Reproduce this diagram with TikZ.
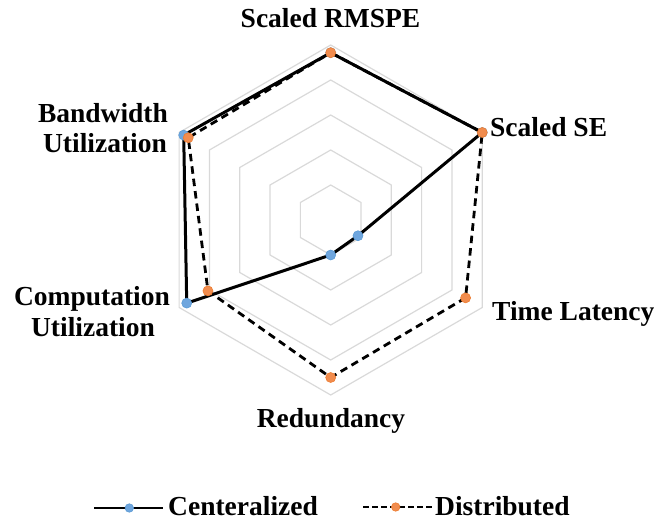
\documentclass[tikz,border=0pt]{standalone}
\usepackage{fontspec}
\setmainfont{Liberation Serif}
\usetikzlibrary{calc}
\definecolor{gridgray}{HTML}{D9D9D9}
\definecolor{cblue}{HTML}{6FA6DE}
\definecolor{cblueedge}{HTML}{5B9BD5}
\definecolor{corange}{HTML}{F18C4E}
\definecolor{corangeedge}{HTML}{ED7D31}
\begin{document}
\begin{tikzpicture}[x=1pt,y=1pt,
  ring/.style={draw=gridgray, line width=1.2pt, line join=miter},
  serieslineC/.style={draw=black, line width=3pt, line join=round},
  serieslineD/.style={draw=black, line width=2.8pt, dash pattern=on 7.5pt off 5pt, line join=round},
  markC/.style={circle, fill=cblue, draw=cblueedge, line width=0.6pt, minimum size=10pt, inner sep=0pt},
  markD/.style={circle, fill=corange, draw=corangeedge, line width=0.6pt, minimum size=10pt, inner sep=0pt},
  lab/.style={font=\fontsize{27.5}{31}\selectfont\bfseries, inner sep=0pt},
]
\useasboundingbox (0,0) rectangle (657,525);

% radar centre and full radius
\coordinate (O) at (330.7,305);
\def\R{175}

% grid rings
\foreach \k in {1,...,5}{
  \draw[ring] ($(O)+(90:\k*35)$) -- ($(O)+(30:\k*35)$) -- ($(O)+(-30:\k*35)$)
    -- ($(O)+(-90:\k*35)$) -- ($(O)+(210:\k*35)$) -- ($(O)+(150:\k*35)$) -- cycle;
}

% centralized values
\coordinate (c1) at ($(O)+(90:0.956*\R)$);
\coordinate (c2) at ($(O)+(30:1.0*\R)$);
\coordinate (c3) at ($(O)+(-30:0.18*\R)$);
\coordinate (c4) at ($(O)+(-90:0.20*\R)$);
\coordinate (c5) at ($(O)+(210:0.95*\R)$);
\coordinate (c6) at ($(O)+(150:0.97*\R)$);

% distributed values
\coordinate (d1) at ($(O)+(90:0.956*\R)$);
\coordinate (d2) at ($(O)+(30:1.0*\R)$);
\coordinate (d3) at ($(O)+(-30:0.89*\R)$);
\coordinate (d4) at ($(O)+(-90:0.90*\R)$);
\coordinate (d5) at ($(O)+(210:0.81*\R)$);
\coordinate (d6) at ($(O)+(150:0.94*\R)$);

% centralized series
\draw[serieslineC] (c1) -- (c2) -- (c3) -- (c4) -- (c5) -- (c6) -- cycle;
\foreach \i in {1,...,6}{ \node[markC] (mc\i) at (c\i) {}; }

% distributed series
\draw[serieslineD] (d1) -- (d2) -- (d3) -- (d4) -- (d5) -- (d6) -- cycle;
\foreach \i in {1,...,6}{ \node[markD] (md\i) at (d\i) {}; }

% axis labels
\node[lab, anchor=base] (lrmspe) at (330.5,497) {Scaled RMSPE};
\node[lab, anchor=base west] (lse) at (490,388) {Scaled SE};
\node[lab, anchor=base west] (ltime) at (492,204) {Time Latency};
\node[lab, anchor=base] (lred) at (331,97) {Redundancy};
\node[lab, anchor=base] (lcomp1) at (92,219) {Computation};
\node[lab, anchor=base] (lcomp2) at (93,188) {Utilization};
\node[lab, anchor=base] (lbw1) at (103,402) {Bandwidth};
\node[lab, anchor=base] (lbw2) at (105,372) {Utilization};

% legend
\coordinate (lgCa) at (94,17);
\coordinate (lgCb) at (163.3,17);
\draw[serieslineC, line width=2.8pt] (lgCa) -- (lgCb);
\node[markC, minimum size=8.5pt] (lgCm) at (129.3,17) {};
\node[lab, anchor=base west] (lgCt) at (168,9) {Centeralized};

\coordinate (lgDa) at (363.3,18);
\coordinate (lgDb) at (431.7,18);
\draw[draw=black, line width=2.8pt, dash pattern=on 5.5pt off 3.5pt] (lgDa) -- (lgDb);
\node[markD, minimum size=8.5pt] (lgDm) at (395.7,18) {};
\node[lab, anchor=base west] (lgDt) at (435,9) {Distributed};
\end{tikzpicture}
\end{document}
